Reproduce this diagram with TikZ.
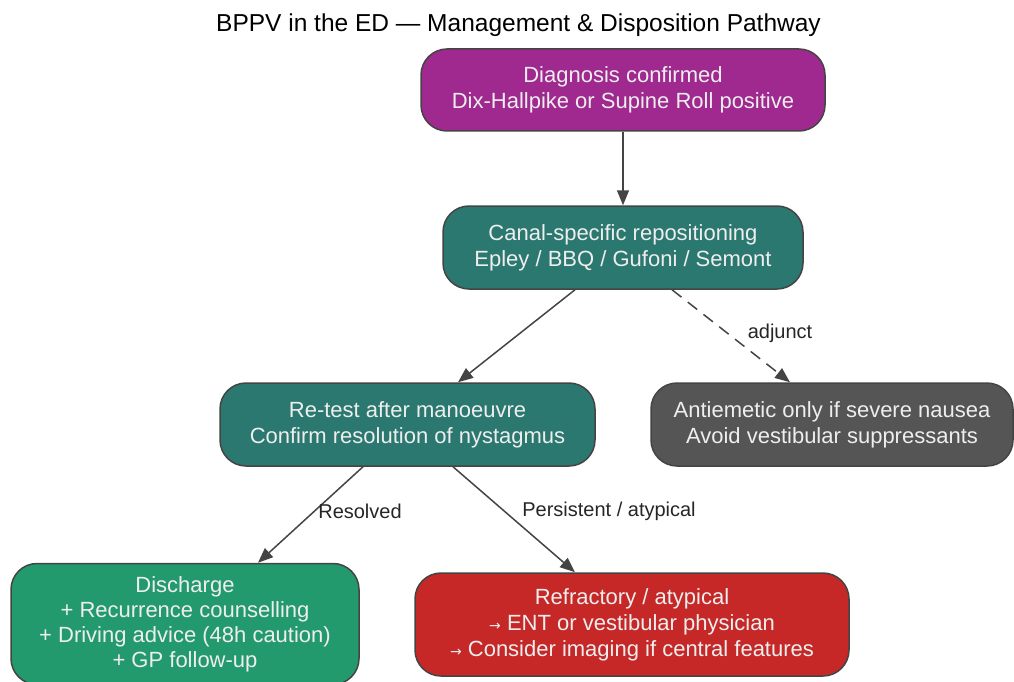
\documentclass[tikz,border=0pt]{standalone}
\usepackage{fontspec}
\setmainfont{Liberation Sans}
\newfontfamily\dejavu{DejaVu Sans}
\usetikzlibrary{arrows.meta}
\definecolor{cpurple}{HTML}{A0298F}
\definecolor{cteal}{HTML}{2B7870}
\definecolor{cgray}{HTML}{555555}
\definecolor{cgreen}{HTML}{239A6E}
\definecolor{cred}{HTML}{C62828}
\definecolor{cedge}{HTML}{444444}
\definecolor{ctext}{HTML}{EEEEEE}
\newcommand{\sarr}{{\dejavu\fontsize{14}{14}\selectfont →}}
\tikzset{
  box/.style={draw=cedge, line width=1.5pt, rounded corners=26pt, align=center,
    text=ctext, font=\fontsize{22}{26}\selectfont, inner sep=0pt},
  conn/.style={draw=cedge, line width=1.5pt, -{Triangle[length=15pt,width=12pt]}},
  elabel/.style={text=black!85, font=\fontsize{20}{24}\selectfont, inner sep=1pt}
}
\begin{document}
\begin{tikzpicture}[x=1pt,y=-1pt]
\useasboundingbox (0,0) rectangle (1014,682);
\node[font=\fontsize{24.5}{28}\selectfont, text=black] (title) at (518.5,25) {BPPV in the ED — Management \& Disposition Pathway};

\node[box, fill=cpurple, minimum width=404pt, minimum height=82pt] (diag) at (623,90)
  {Diagnosis confirmed\\Dix-Hallpike or Supine Roll positive};
\node[box, fill=cteal, minimum width=360pt, minimum height=83pt] (canal) at (623,247.5)
  {Canal-specific repositioning\\Epley / BBQ / Gufoni / Semont};
\node[box, fill=cteal, minimum width=375pt, minimum height=83pt] (retest) at (407.5,424.5)
  {Re-test after manoeuvre\\Confirm resolution of nystagmus};
\node[box, fill=cgray, minimum width=362pt, minimum height=83pt] (anti) at (832,424.5)
  {Antiemetic only if severe nausea\\Avoid vestibular suppressants};
\node[box, fill=cgreen, minimum width=348pt, minimum height=121pt, font=\fontsize{22}{25}\selectfont] (dis) at (185,624)
  {Discharge\\+ Recurrence counselling\\+ Driving advice (48h caution)\\+ GP follow-up};
\node[box, fill=cred, minimum width=434pt, minimum height=103pt] (ref) at (632,624.5)
  {Refractory / atypical\\\sarr\ ENT or vestibular physician\\\sarr\ Consider imaging if central features};

\draw[conn] (diag.south) -- (canal.north);
\draw[conn] ([xshift=-48pt]canal.south) -- ([xshift=50.5pt]retest.north);
\draw[conn, dashed, dash pattern=on 12pt off 8pt] ([xshift=49pt]canal.south) -- ([xshift=-42pt]anti.north);
\draw[conn] ([xshift=-44.5pt]retest.south) -- ([xshift=73pt]dis.north);
\draw[conn] ([xshift=45.5pt]retest.south) -- ([xshift=-57pt]ref.north);

\node[elabel] (l1) at (780,333) {adjunct};
\node[elabel] (l2) at (360,511) {Resolved};
\node[elabel] (l3) at (609,511) {Persistent / atypical};
\end{tikzpicture}
\end{document}
